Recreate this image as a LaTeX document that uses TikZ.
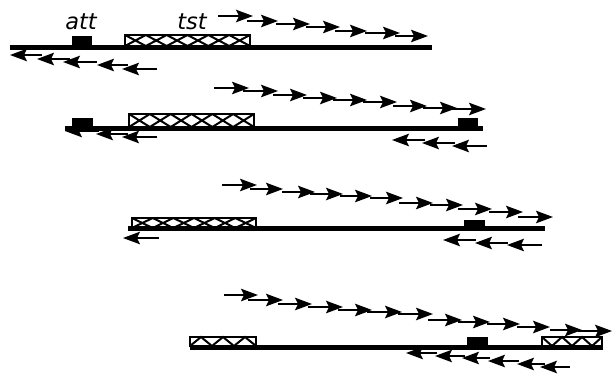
\documentclass[tikz,border=0pt]{standalone}
\usepackage{fontspec}
\setsansfont{DejaVu Sans}
\usetikzlibrary{arrows.meta}

% open box with a row of crosses: x1, y1 (top), x2, y2 (bottom), number of crosses
\newcommand\crossbox[5]{%
  \draw[gene] (#1,#2) rectangle (#3,#4);
  \pgfmathsetmacro\cellw{(#3-#1)/#5}
  \foreach \i in {1,...,#5}{%
    \draw[hatch] ({#1+(\i-1)*\cellw},#2) -- ({#1+\i*\cellw},#4)
                 ({#1+(\i-1)*\cellw},#4) -- ({#1+\i*\cellw},#2);
  }%
}
% open box with a zigzag: x1, y1, x2, y2, teeth, y of ends, y of turning points
\newcommand\zigbox[7]{%
  \draw[gene] (#1,#2) rectangle (#3,#4);
  \pgfmathsetmacro\cellw{(#3-#1)/#5}
  \draw[hatch, line join=miter] (#1,#6)
    \foreach \i in {1,...,#5}{ -- ({#1+(\i-0.5)*\cellw},#7) -- ({#1+\i*\cellw},#6) };
}

\begin{document}
\begin{tikzpicture}[x=1pt, y=-1pt,
  dna/.style={line width=5pt},
  site/.style={fill=black},
  gene/.style={draw=black, line width=1.4pt, fill=white},
  hatch/.style={line width=2pt},
  readarrow/.style={line width=1.8pt, -{Stealth[length=17pt, width=12.5pt, inset=3pt]}},
  lbl/.style={font=\fontsize{22.5}{27}\selectfont\sffamily\itshape, anchor=base, inner sep=0pt}
]
\useasboundingbox (0,0) rectangle (613,375);

% ---------- labels ----------
\node[lbl] (att) at (81,29.5) {att};
\node[lbl] (tst) at (192,29.5) {tst};

% ---------- row 1 ----------
\fill[site] (72,35.5) rectangle (92,46);
\crossbox{125}{35}{250}{46}{6}
\draw[dna] (10,47.5) -- (432,47.5);
\foreach \a/\b/\y in {218/253/16, 247/278/21, 276/310/24, 306/340/27,
                      335/367/31, 365/400/33, 395/428/36}
  \draw[readarrow] (\a,\y) -- (\b,\y);
\foreach \a/\b/\y in {42/10/55, 70/37/59, 97/63/62, 128/97/65, 157/122/69}
  \draw[readarrow] (\a,\y) -- (\b,\y);

% ---------- row 2 ----------
\fill[site] (72,118) rectangle (93,127);
\fill[site] (458,118) rectangle (478,127);
\crossbox{129}{114}{254}{127}{6}
\draw[dna] (65,128) -- (483,128);
\foreach \a/\b/\y in {214/249/88, 243/278/91, 273/307/95, 303/337/98, 333/367/100,
                      363/397/102, 393/427/106, 423/457/108, 452/486/109}
  \draw[readarrow] (\a,\y) -- (\b,\y);
\foreach \a/\b/\y in {99/65/131, 128/96/134, 157/122/137}
  \draw[readarrow] (\a,\y) -- (\b,\y);
\foreach \a/\b/\y in {425/392/140, 455/422/143, 487/452/146}
  \draw[readarrow] (\a,\y) -- (\b,\y);

% ---------- row 3 ----------
\crossbox{132}{218}{256}{228}{6}
\fill[site] (464,220) rectangle (485,228);
\draw[dna] (128,228.5) -- (545,228.5);
\foreach \a/\b/\y in {222/257/185, 250/283/189, 282/315/192, 310/343/194,
                      340/372/196, 370/403/198, 399/433/203, 430/463/205,
                      458/492/209, 489/523/212, 518/553/217}
  \draw[readarrow] (\a,\y) -- (\b,\y);
\draw[readarrow] (159,238) -- (123,238);
\foreach \a/\b/\y in {476/443/240, 508/475/243, 542/507/245}
  \draw[readarrow] (\a,\y) -- (\b,\y);

% ---------- row 4 ----------
\zigbox{190}{337}{256}{346}{3}{346}{337}
\fill[site] (467,337) rectangle (488,346);
\zigbox{542}{337}{602}{346}{3}{337}{346}
\draw[dna] (190,347.5) -- (603,347.5);
\foreach \a/\b/\y in {224/258/295, 248/283/300, 278/312/304, 308/343/307,
                      338/372/310, 367/402/312, 398/433/314, 428/462/320,
                      458/490/322, 487/520/324, 517/550/327, 550/582/330,
                      578/612/331}
  \draw[readarrow] (\a,\y) -- (\b,\y);
\foreach \a/\b/\y in {437/406/353, 465/435/356, 490/462/358, 519/488/361,
                      545/517/364, 570/540/367}
  \draw[readarrow] (\a,\y) -- (\b,\y);
\end{tikzpicture}
\end{document}
